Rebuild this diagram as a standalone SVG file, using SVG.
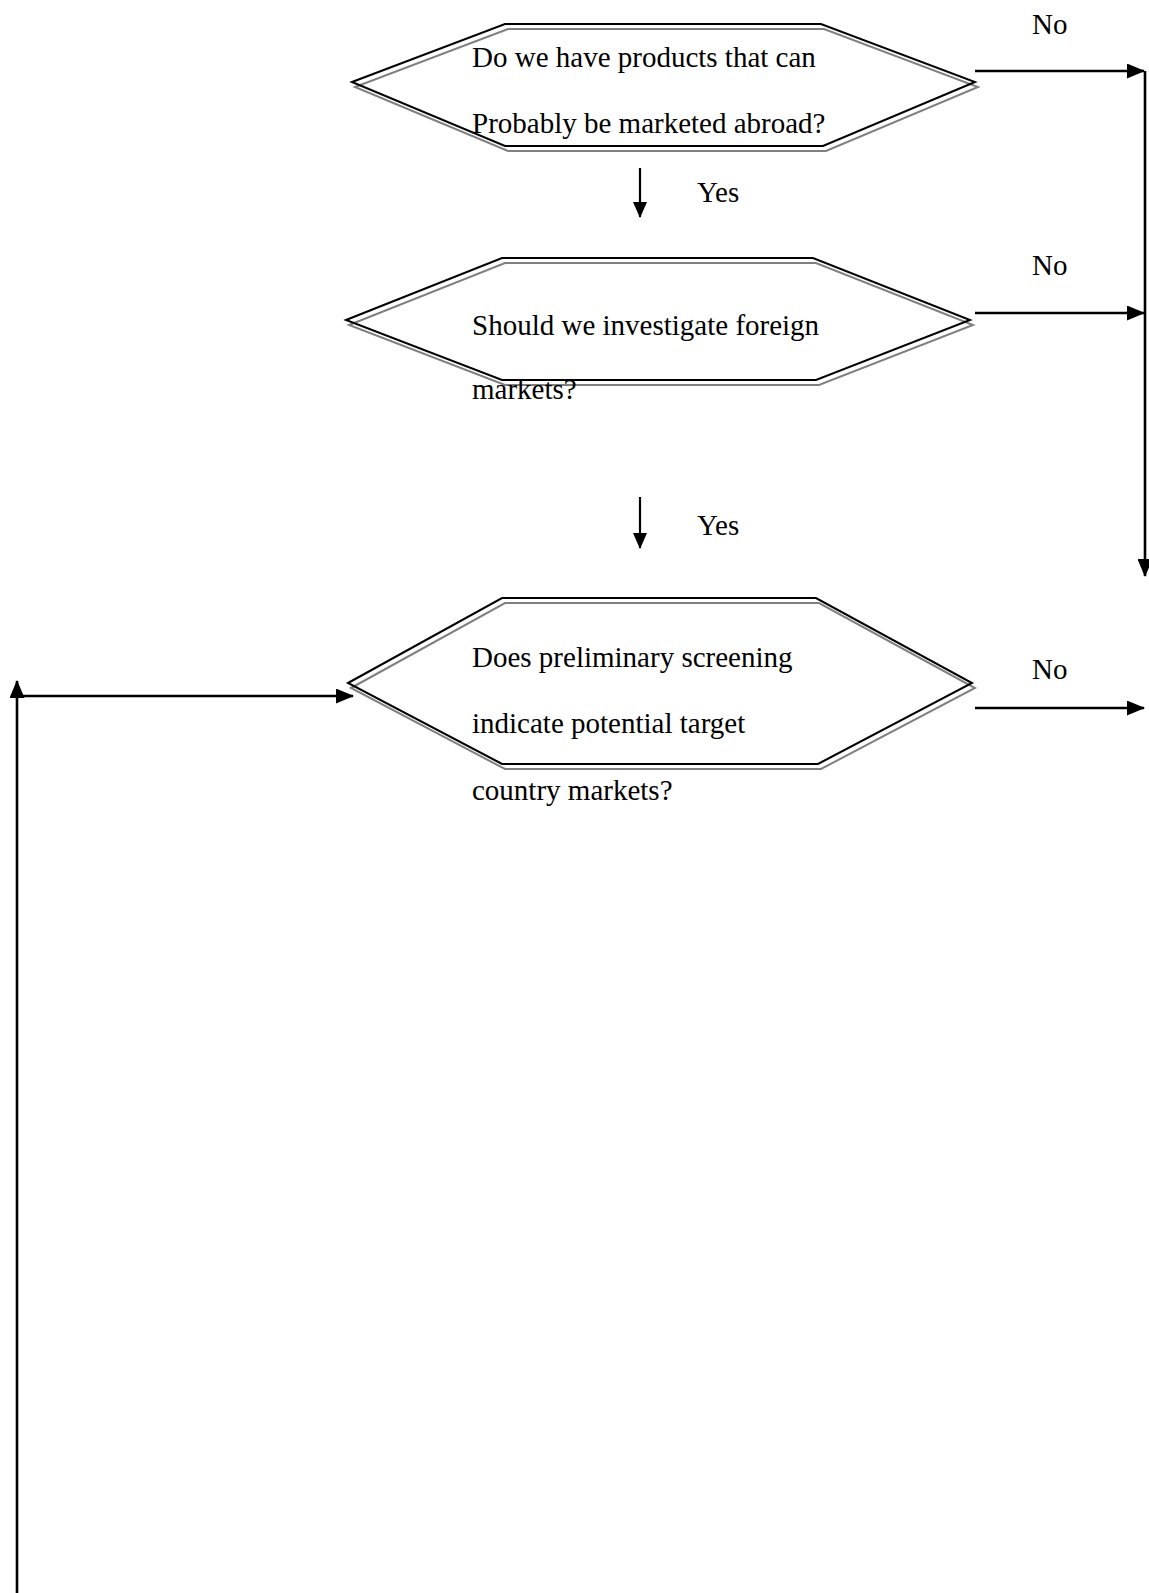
<svg xmlns="http://www.w3.org/2000/svg" width="1149" height="1593" viewBox="0 0 1149 1593">
<style>
text{font-family:"Liberation Serif","Times New Roman",serif;font-size:29px;fill:#000}
.hex{fill:none;stroke:#000;stroke-width:2}
.shd{fill:none;stroke:#808080;stroke-width:2}
.ln{fill:none;stroke:#000;stroke-width:2.6}
.sm{fill:none;stroke:#000;stroke-width:2.2}
</style>
<defs>
<marker id="ah" markerUnits="userSpaceOnUse" markerWidth="18" markerHeight="15" refX="17" refY="7.5" orient="auto">
<path d="M0,0 L18,7.5 L0,15 Z" fill="#000"/>
</marker>
<marker id="as" markerUnits="userSpaceOnUse" markerWidth="16" markerHeight="14" refX="15" refY="7" orient="auto">
<path d="M0,0 L16,7 L0,14 Z" fill="#000"/>
</marker>
</defs>
<g id="node1">
<polygon class="shd" transform="translate(3,5)" points="352,82 505,24 821,24 975,82 823,146 505,146"/>
<polygon class="hex" points="352,82 505,24 821,24 975,82 823,146 505,146"/>
<text x="472" y="67">Do we have products that can</text>
<text x="472" y="133">Probably be marketed abroad?</text>
</g>
<g id="node2">
<polygon class="shd" transform="translate(3,5)" points="346,320 502,258 813,258 970,320 816,380 502,380"/>
<polygon class="hex" points="346,320 502,258 813,258 970,320 816,380 502,380"/>
<text x="472" y="335">Should we investigate foreign</text>
<text x="472" y="399">markets?</text>
</g>
<g id="node3">
<polygon class="shd" transform="translate(3,5)" points="348,683 502,598 816,598 972,683 818,764 502,764"/>
<polygon class="hex" points="348,683 502,598 816,598 972,683 818,764 502,764"/>
<text x="472" y="667">Does preliminary screening</text>
<text x="472" y="733">indicate potential target</text>
<text x="472" y="800">country markets?</text>
</g>
<g id="connectors">
<line class="ln" x1="975" y1="71" x2="1144" y2="71" marker-end="url(#ah)"/>
<line class="ln" x1="975" y1="313" x2="1144" y2="313" marker-end="url(#ah)"/>
<line class="ln" x1="1145" y1="71" x2="1145" y2="576" marker-end="url(#ah)"/>
<line class="ln" x1="975" y1="708" x2="1144" y2="708" marker-end="url(#ah)"/>
<line class="sm" x1="640" y1="168" x2="640" y2="217" marker-end="url(#as)"/>
<line class="sm" x1="640" y1="497" x2="640" y2="548" marker-end="url(#as)"/>
<line class="ln" x1="17" y1="1593" x2="17" y2="681" marker-end="url(#ah)"/>
<line class="ln" x1="17" y1="696" x2="353" y2="696" marker-end="url(#ah)"/>
<text x="1032" y="34">No</text>
<text x="1032" y="275">No</text>
<text x="1032" y="679">No</text>
<text x="697" y="202">Yes</text>
<text x="697" y="535">Yes</text>
</g>
</svg>
